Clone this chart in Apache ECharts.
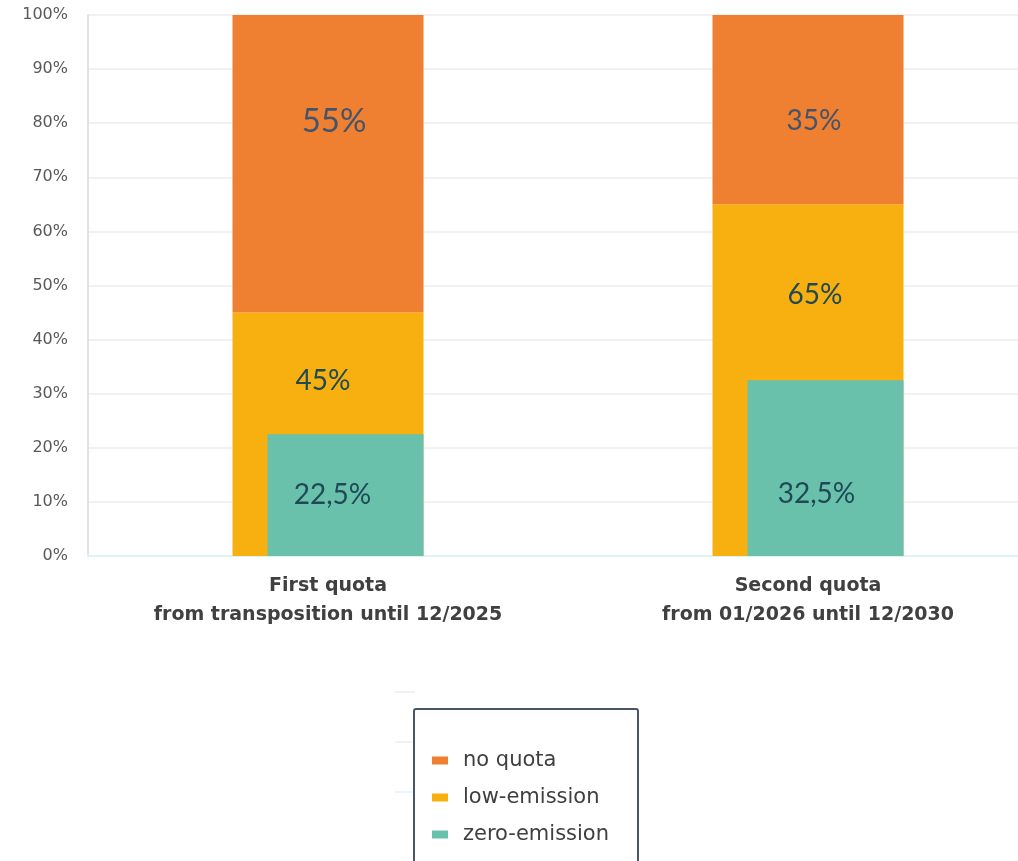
<!DOCTYPE html>
<html>
<head>
<meta charset="utf-8">
<script src="https://cdn.jsdelivr.net/npm/echarts@6/dist/echarts.min.js"></script>
<style>
  html, body { margin: 0; padding: 0; background: #fff; }
  #chart { width: 1018px; height: 861px; }
</style>
</head>
<body>
<div id="chart"></div>
<script>
// categories and shares (in %)
const categories = ['First quota\nfrom transposition until 12/2025', 'Second quota\nfrom 01/2026 until 12/2030']
const lowEmission = [45, 65]
const noQuota = [55, 35]
const zeroEmission = [22.5, 32.5]

// where the value labels sit inside each bar (px shift from the bar centre)
const noQuotaShift = [[6, -42], [6, 11]]
const lowShift = [[-5, -53], [7, -85]]
const zeroShift = [[-13, 0], [-9, 26]]

const chart = echarts.init(document.getElementById('chart'))

const fmt = p => String(p.value).replace('.', ',') + '%'

function withLabels(values, shifts, sizes, color) {
  return values.map((v, i) => ({
    value: v,
    label: {
      show: true,
      position: 'inside',
      offset: shifts[i],
      fontSize: sizes[i],
      color: color,
      fontFamily: 'Lato',
      formatter: fmt,
    },
  }))
}

const option = {
  animation: false,
  backgroundColor: '#fff',
  grid: { left: 88, top: 15, width: 960, bottom: 305, containLabel: false, outerBoundsMode: 'none' },
  xAxis: {
    type: 'category',
    data: categories,
    axisLine: { lineStyle: { color: '#dcf4f8', width: 2 } },
    axisTick: { show: false },
    axisLabel: {
      margin: 16,
      fontFamily: 'DejaVu Sans',
      fontWeight: 'bold',
      fontSize: 19,
      lineHeight: 29,
      color: '#404040',
    },
  },
  yAxis: {
    type: 'value',
    min: 0,
    max: 100,
    interval: 10,
    axisLine: { show: true, lineStyle: { color: '#d9d9d9', width: 1.5 } },
    axisTick: { show: false },
    splitLine: { lineStyle: { color: '#ececec', width: 1.5 } },
    axisLabel: {
      margin: 20,
      formatter: '{value}%',
      fontFamily: 'DejaVu Sans',
      fontSize: 16,
      color: '#595959',
    },
  },
  legend: {
    orient: 'vertical',
    left: 427,
    top: 745,
    data: ['no quota', 'low-emission', 'zero-emission'],
    icon: 'rect',
    itemWidth: 16,
    itemHeight: 8,
    itemGap: 16,
    textStyle: {
      fontFamily: 'DejaVu Sans',
      fontSize: 21,
      color: '#404040',
      padding: [0, 0, 0, 10],
    },
  },
  graphic: [
    {
      type: 'rect',
      shape: { x: 414, y: 709, width: 224, height: 180, r: 2 },
      style: { fill: 'none', stroke: '#4a5568', lineWidth: 2 },
      z: 100,
    },
    { type: 'line', shape: { x1: 395, y1: 692, x2: 415, y2: 692 }, style: { stroke: '#ececec', lineWidth: 1.5 } },
    { type: 'line', shape: { x1: 395, y1: 742, x2: 413, y2: 742 }, style: { stroke: '#ececec', lineWidth: 1.5 } },
    { type: 'line', shape: { x1: 395, y1: 792, x2: 413, y2: 792 }, style: { stroke: '#dcf4f8', lineWidth: 1.5 } },
  ],
  series: [
    {
      name: 'low-emission',
      type: 'bar',
      stack: 'quota',
      barWidth: 191,
      barGap: '-81.675%',
      itemStyle: { color: '#f8af10' },
      data: withLabels(lowEmission, lowShift, [28, 28], '#1f4a55'),
    },
    {
      name: 'no quota',
      type: 'bar',
      stack: 'quota',
      barWidth: 191,
      barGap: '-81.675%',
      itemStyle: { color: '#ef7f31' },
      data: withLabels(noQuota, noQuotaShift, [33, 28], '#44546a'),
    },
    {
      name: 'zero-emission',
      type: 'bar',
      stack: 'zero',
      barWidth: 156,
      barGap: '-81.675%',
      itemStyle: { color: '#69c1ac' },
      data: withLabels(zeroEmission, zeroShift, [28, 28], '#1f4a55'),
    },
  ],
}

chart.setOption(option)
</script>
</body>
</html>
